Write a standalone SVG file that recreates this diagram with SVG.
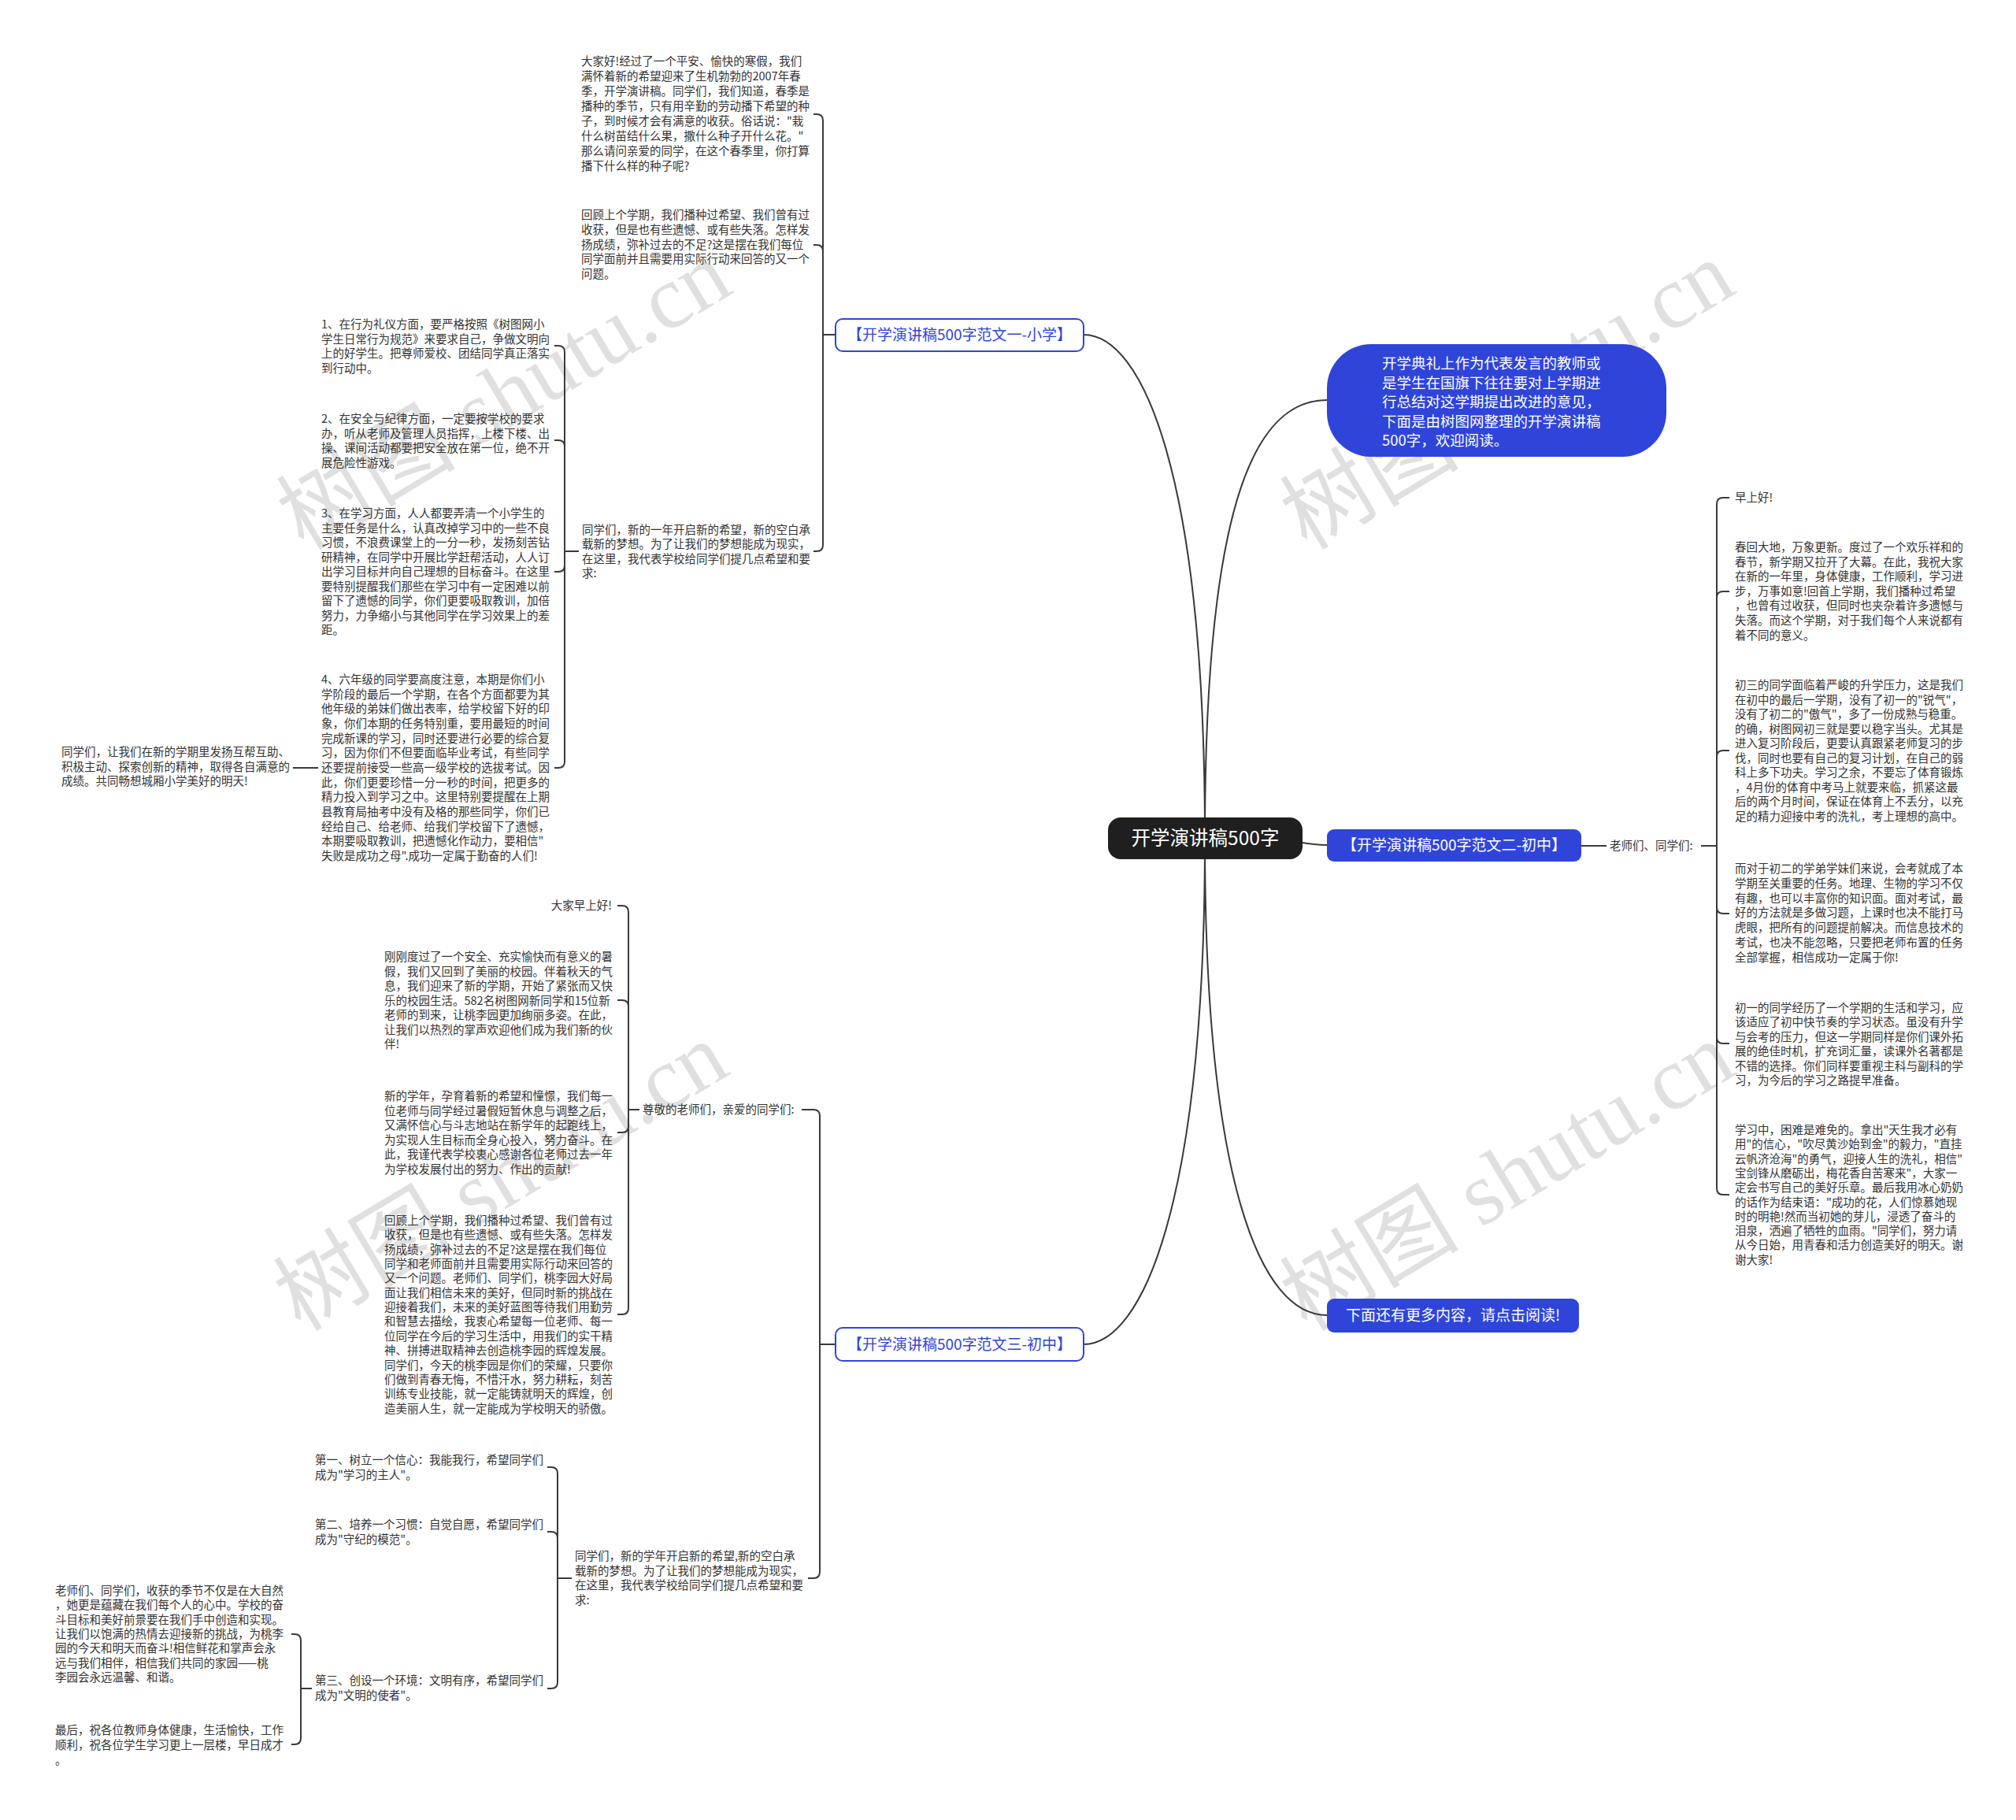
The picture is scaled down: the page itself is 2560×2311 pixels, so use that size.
<svg xmlns="http://www.w3.org/2000/svg" width="2560" height="2311" viewBox="0 0 2560 2311">
<style>
.t{font-family:"Noto Sans CJK SC","Noto Sans",sans-serif;font-size:14.5px;fill:#333}
.c{fill:none;stroke:#3a3a3a;stroke-width:2}
.wm{font-family:"Liberation Serif","Noto Sans CJK SC",serif;font-size:114px;fill:#000;fill-opacity:0.12;text-anchor:middle}
.nb{fill:#2f45d9}
.nw{fill:#fff;stroke:#2f45d9;stroke-width:2}
.lb{font-family:"Noto Sans CJK SC","Noto Sans",sans-serif;font-size:19px;text-anchor:middle}
</style>
<rect width="2560" height="2311" fill="#fff"/>
<g id="watermarks">
<text class="wm" transform="translate(660,535) rotate(-31)">树图 shutu.cn</text>
<text class="wm" transform="translate(1934,535) rotate(-31)">树图 shutu.cn</text>
<text class="wm" transform="translate(656,1527) rotate(-31)">树图 shutu.cn</text>
<text class="wm" transform="translate(1934,1527) rotate(-31)">树图 shutu.cn</text>
</g>
<g id="connectors">
<path class="c" d="M1530,1065 C1530,600 1450,425 1376,425"/>
<path class="c" d="M1530,1065 C1530,620 1600,508 1685,508"/>
<path class="c" d="M1600,1065 C1650,1065 1650,1073 1685,1073"/>
<path class="c" d="M1530,1065 C1530,1500 1600,1670 1685,1670"/>
<path class="c" d="M1530,1065 C1530,1530 1450,1707 1376,1707"/>
<path class="c" d="M2008,1074 H2040"/>
<path class="c" d="M2160,1074 H2180 M2180,1074 V640 Q2180,632 2188,632 H2196 M2180,1074 V759 Q2180,751 2188,751 H2196 M2180,1074 V961 Q2180,953 2188,953 H2196 M2180,1074 V1152 Q2180,1160 2188,1160 H2196 M2180,1074 V1317 Q2180,1325 2188,1325 H2196 M2180,1074 V1509 Q2180,1517 2188,1517 H2196"/>
<path class="c" d="M1061,425 H1045 M1045,425 V153 Q1045,145 1037,145 H1033 M1045,425 V319 Q1045,311 1037,311 H1033 M1045,425 V692 Q1045,700 1037,700 H1033"/>
<path class="c" d="M735,700 H717 M717,700 V447 Q717,439 709,439 H704 M717,700 V567 Q717,559 709,559 H704 M717,700 V718 Q717,726 709,726 H704 M717,700 V967 Q717,975 709,975 H704"/>
<path class="c" d="M404,975 H372"/>
<path class="c" d="M1061,1707 H1041 M1041,1707 V1417 Q1041,1409 1033,1409 H1018 M1041,1707 V1996 Q1041,2004 1033,2004 H1026"/>
<path class="c" d="M812,1409 H798 M798,1409 V1158 Q798,1150 790,1150 H784 M798,1409 V1278 Q798,1270 790,1270 H784 M798,1409 V1430 Q798,1438 790,1438 H784 M798,1409 V1661 Q798,1669 790,1669 H784"/>
<path class="c" d="M726,2004 H708 M708,2004 V1871 Q708,1863 700,1863 H695 M708,2004 V1953 Q708,1945 700,1945 H695 M708,2004 V2136 Q708,2144 700,2144 H695"/>
<path class="c" d="M396,2144 H382 M382,2144 V2083 Q382,2075 374,2075 H370 M382,2144 V2207 Q382,2215 374,2215 H370"/>
</g>
<g id="root">
<rect x="1407" y="1038" width="247" height="53" rx="16" fill="#1f1f1f"/>
<text x="1530.5" y="1073" font-family="Noto Sans CJK SC, sans-serif" font-size="24.5" fill="#fff" text-anchor="middle">开学演讲稿500字</text>
</g>
<g id="intro">
<rect x="1685" y="437" width="431" height="143" rx="56" class="nb"/>
<text font-family="Noto Sans CJK SC, sans-serif" font-size="18.5" fill="#fff"><tspan x="1755" y="468">开学典礼上作为代表发言的教师或</tspan><tspan x="1755" y="492.5">是学生在国旗下往往要对上学期进</tspan><tspan x="1755" y="517">行总结对这学期提出改进的意见，</tspan><tspan x="1755" y="541.5">下面是由树图网整理的开学演讲稿</tspan><tspan x="1755" y="566">500字，欢迎阅读。</tspan></text>
</g>
<g id="branch2">
<rect x="1685" y="1053" width="323" height="41" rx="9" class="nb"/>
<text class="lb" x="1846.5" y="1080" fill="#fff">【开学演讲稿500字范文二-初中】</text>
</g>
<g id="more">
<rect x="1685" y="1649" width="320" height="43" rx="9" class="nb"/>
<text class="lb" x="1845" y="1677" fill="#fff">下面还有更多内容，请点击阅读!</text>
</g>
<g id="branch1">
<rect x="1061" y="405" width="315" height="41" rx="9" class="nw"/>
<text class="lb" x="1218.5" y="432" fill="#2f45d9">【开学演讲稿500字范文一-小学】</text>
</g>
<g id="branch3">
<rect x="1061" y="1686" width="315" height="42" rx="9" class="nw"/>
<text class="lb" x="1218.5" y="1714" fill="#2f45d9">【开学演讲稿500字范文三-初中】</text>
</g>
<g id="b2-children">
<text class="t" x="2044" y="1079">老师们、同学们:</text>
<text class="t" x="2203" y="637">早上好!</text>
<text class="t"><tspan x="2203" y="700">春回大地，万象更新。度过了一个欢乐祥和的</tspan><tspan x="2203" dy="18.6">春节，新学期又拉开了大幕。在此，我祝大家</tspan><tspan x="2203" dy="18.6">在新的一年里，身体健康，工作顺利，学习进</tspan><tspan x="2203" dy="18.6">步，万事如意!回首上学期，我们播种过希望</tspan><tspan x="2203" dy="18.6">，也曾有过收获，但同时也夹杂着许多遗憾与</tspan><tspan x="2203" dy="18.6">失落。而这个学期，对于我们每个人来说都有</tspan><tspan x="2203" dy="18.6">着不同的意义。</tspan></text>
<text class="t"><tspan x="2203" y="875">初三的同学面临着严峻的升学压力，这是我们</tspan><tspan x="2203" dy="18.55">在初中的最后一学期，没有了初一的"锐气"，</tspan><tspan x="2203" dy="18.55">没有了初二的"傲气"，多了一份成熟与稳重。</tspan><tspan x="2203" dy="18.55">的确，树图网初三就是要以稳字当头。尤其是</tspan><tspan x="2203" dy="18.55">进入复习阶段后，更要认真跟紧老师复习的步</tspan><tspan x="2203" dy="18.55">伐，同时也要有自己的复习计划，在自己的弱</tspan><tspan x="2203" dy="18.55">科上多下功夫。学习之余，不要忘了体育锻炼</tspan><tspan x="2203" dy="18.55">，4月份的体育中考马上就要来临，抓紧这最</tspan><tspan x="2203" dy="18.55">后的两个月时间，保证在体育上不丢分，以充</tspan><tspan x="2203" dy="18.55">足的精力迎接中考的洗礼，考上理想的高中。</tspan></text>
<text class="t"><tspan x="2203" y="1108">而对于初二的学弟学妹们来说，会考就成了本</tspan><tspan x="2203" dy="18.8">学期至关重要的任务。地理、生物的学习不仅</tspan><tspan x="2203" dy="18.8">有趣，也可以丰富你的知识面。面对考试，最</tspan><tspan x="2203" dy="18.8">好的方法就是多做习题，上课时也决不能打马</tspan><tspan x="2203" dy="18.8">虎眼，把所有的问题提前解决。而信息技术的</tspan><tspan x="2203" dy="18.8">考试，也决不能忽略，只要把老师布置的任务</tspan><tspan x="2203" dy="18.8">全部掌握，相信成功一定属于你!</tspan></text>
<text class="t"><tspan x="2203" y="1285">初一的同学经历了一个学期的生活和学习，应</tspan><tspan x="2203" dy="18.4">该适应了初中快节奏的学习状态。虽没有升学</tspan><tspan x="2203" dy="18.4">与会考的压力，但这一学期同样是你们课外拓</tspan><tspan x="2203" dy="18.4">展的绝佳时机，扩充词汇量，读课外名著都是</tspan><tspan x="2203" dy="18.4">不错的选择。你们同样要重视主科与副科的学</tspan><tspan x="2203" dy="18.4">习，为今后的学习之路提早准备。</tspan></text>
<text class="t"><tspan x="2203" y="1440">学习中，困难是难免的。拿出"天生我才必有</tspan><tspan x="2203" dy="18.3">用"的信心，"吹尽黄沙始到金"的毅力，"直挂</tspan><tspan x="2203" dy="18.3">云帆济沧海"的勇气，迎接人生的洗礼，相信"</tspan><tspan x="2203" dy="18.3">宝剑锋从磨砺出，梅花香自苦寒来"，大家一</tspan><tspan x="2203" dy="18.3">定会书写自己的美好乐章。最后我用冰心奶奶</tspan><tspan x="2203" dy="18.3">的话作为结束语："成功的花，人们惊慕她现</tspan><tspan x="2203" dy="18.3">时的明艳!然而当初她的芽儿，浸透了奋斗的</tspan><tspan x="2203" dy="18.3">泪泉，洒遍了牺牲的血雨。"同学们，努力请</tspan><tspan x="2203" dy="18.3">从今日始，用青春和活力创造美好的明天。谢</tspan><tspan x="2203" dy="18.3">谢大家!</tspan></text>
</g>
<g id="b1-children">
<text class="t"><tspan x="738" y="83">大家好!经过了一个平安、愉快的寒假，我们</tspan><tspan x="738" dy="19">满怀着新的希望迎来了生机勃勃的2007年春</tspan><tspan x="738" dy="19">季，开学演讲稿。同学们，我们知道，春季是</tspan><tspan x="738" dy="19">播种的季节，只有用辛勤的劳动播下希望的种</tspan><tspan x="738" dy="19">子，到时候才会有满意的收获。俗话说："栽</tspan><tspan x="738" dy="19">什么树苗结什么果，撒什么种子开什么花。"</tspan><tspan x="738" dy="19">那么请问亲爱的同学，在这个春季里，你打算</tspan><tspan x="738" dy="19">播下什么样的种子呢?</tspan></text>
<text class="t"><tspan x="738" y="278">回顾上个学期，我们播种过希望、我们曾有过</tspan><tspan x="738" dy="18.8">收获，但是也有些遗憾、或有些失落。怎样发</tspan><tspan x="738" dy="18.8">扬成绩，弥补过去的不足?这是摆在我们每位</tspan><tspan x="738" dy="18.8">同学面前并且需要用实际行动来回答的又一个</tspan><tspan x="738" dy="18.8">问题。</tspan></text>
<text class="t"><tspan x="739" y="678">同学们，新的一年开启新的希望，新的空白承</tspan><tspan x="739" dy="18.4">载新的梦想。为了让我们的梦想能成为现实，</tspan><tspan x="739" dy="18.4">在这里，我代表学校给同学们提几点希望和要</tspan><tspan x="739" dy="18.4">求:</tspan></text>
<text class="t"><tspan x="408" y="417">1、在行为礼仪方面，要严格按照《树图网小</tspan><tspan x="408" dy="18.5">学生日常行为规范》来要求自己，争做文明向</tspan><tspan x="408" dy="18.5">上的好学生。把尊师爱校、团结同学真正落实</tspan><tspan x="408" dy="18.5">到行动中。</tspan></text>
<text class="t"><tspan x="408" y="537">2、在安全与纪律方面，一定要按学校的要求</tspan><tspan x="408" dy="18.5">办，听从老师及管理人员指挥，上楼下楼、出</tspan><tspan x="408" dy="18.5">操、课间活动都要把安全放在第一位，绝不开</tspan><tspan x="408" dy="18.5">展危险性游戏。</tspan></text>
<text class="t"><tspan x="408" y="657">3、在学习方面，人人都要弄清一个小学生的</tspan><tspan x="408" dy="18.5">主要任务是什么，认真改掉学习中的一些不良</tspan><tspan x="408" dy="18.5">习惯，不浪费课堂上的一分一秒，发扬刻苦钻</tspan><tspan x="408" dy="18.5">研精神，在同学中开展比学赶帮活动，人人订</tspan><tspan x="408" dy="18.5">出学习目标并向自己理想的目标奋斗。在这里</tspan><tspan x="408" dy="18.5">要特别提醒我们那些在学习中有一定困难以前</tspan><tspan x="408" dy="18.5">留下了遗憾的同学，你们更要吸取教训，加倍</tspan><tspan x="408" dy="18.5">努力，力争缩小与其他同学在学习效果上的差</tspan><tspan x="408" dy="18.5">距。</tspan></text>
<text class="t"><tspan x="408" y="868">4、六年级的同学要高度注意，本期是你们小</tspan><tspan x="408" dy="18.65">学阶段的最后一个学期，在各个方面都要为其</tspan><tspan x="408" dy="18.65">他年级的弟妹们做出表率，给学校留下好的印</tspan><tspan x="408" dy="18.65">象，你们本期的任务特别重，要用最短的时间</tspan><tspan x="408" dy="18.65">完成新课的学习，同时还要进行必要的综合复</tspan><tspan x="408" dy="18.65">习，因为你们不但要面临毕业考试，有些同学</tspan><tspan x="408" dy="18.65">还要提前接受一些高一级学校的选拔考试。因</tspan><tspan x="408" dy="18.65">此，你们更要珍惜一分一秒的时间，把更多的</tspan><tspan x="408" dy="18.65">精力投入到学习之中。这里特别要提醒在上期</tspan><tspan x="408" dy="18.65">县教育局抽考中没有及格的那些同学，你们已</tspan><tspan x="408" dy="18.65">经给自己、给老师、给我们学校留下了遗憾，</tspan><tspan x="408" dy="18.65">本期要吸取教训，把遗憾化作动力，要相信"</tspan><tspan x="408" dy="18.65">失败是成功之母".成功一定属于勤奋的人们!</tspan></text>
<text class="t"><tspan x="78" y="960">同学们，让我们在新的学期里发扬互帮互助、</tspan><tspan x="78" dy="18.5">积极主动、探索创新的精神，取得各自满意的</tspan><tspan x="78" dy="18.5">成绩。共同畅想城厢小学美好的明天!</tspan></text>
</g>
<g id="b3-children">
<text class="t" x="816" y="1414">尊敬的老师们，亲爱的同学们:</text>
<text class="t" x="777" y="1155" text-anchor="end">大家早上好!</text>
<text class="t"><tspan x="488" y="1220">刚刚度过了一个安全、充实愉快而有意义的暑</tspan><tspan x="488" dy="18.5">假，我们又回到了美丽的校园。伴着秋天的气</tspan><tspan x="488" dy="18.5">息，我们迎来了新的学期，开始了紧张而又快</tspan><tspan x="488" dy="18.5">乐的校园生活。582名树图网新同学和15位新</tspan><tspan x="488" dy="18.5">老师的到来，让桃李园更加绚丽多姿。在此，</tspan><tspan x="488" dy="18.5">让我们以热烈的掌声欢迎他们成为我们新的伙</tspan><tspan x="488" dy="18.5">伴!</tspan></text>
<text class="t"><tspan x="488" y="1397">新的学年，孕育着新的希望和憧憬，我们每一</tspan><tspan x="488" dy="18.5">位老师与同学经过暑假短暂休息与调整之后，</tspan><tspan x="488" dy="18.5">又满怀信心与斗志地站在新学年的起跑线上，</tspan><tspan x="488" dy="18.5">为实现人生目标而全身心投入，努力奋斗。在</tspan><tspan x="488" dy="18.5">此，我谨代表学校衷心感谢各位老师过去一年</tspan><tspan x="488" dy="18.5">为学校发展付出的努力、作出的贡献!</tspan></text>
<text class="t"><tspan x="488" y="1555">回顾上个学期，我们播种过希望、我们曾有过</tspan><tspan x="488" dy="18.35">收获，但是也有些遗憾、或有些失落。怎样发</tspan><tspan x="488" dy="18.35">扬成绩，弥补过去的不足?这是摆在我们每位</tspan><tspan x="488" dy="18.35">同学和老师面前并且需要用实际行动来回答的</tspan><tspan x="488" dy="18.35">又一个问题。老师们、同学们，桃李园大好局</tspan><tspan x="488" dy="18.35">面让我们相信未来的美好，但同时新的挑战在</tspan><tspan x="488" dy="18.35">迎接着我们，未来的美好蓝图等待我们用勤劳</tspan><tspan x="488" dy="18.35">和智慧去描绘，我衷心希望每一位老师、每一</tspan><tspan x="488" dy="18.35">位同学在今后的学习生活中，用我们的实干精</tspan><tspan x="488" dy="18.35">神、拼搏进取精神去创造桃李园的辉煌发展。</tspan><tspan x="488" dy="18.35">同学们，今天的桃李园是你们的荣耀，只要你</tspan><tspan x="488" dy="18.35">们做到青春无悔，不惜汗水，努力耕耘，刻苦</tspan><tspan x="488" dy="18.35">训练专业技能，就一定能铸就明天的辉煌，创</tspan><tspan x="488" dy="18.35">造美丽人生，就一定能成为学校明天的骄傲。</tspan></text>
<text class="t"><tspan x="730" y="1981">同学们，新的学年开启新的希望,新的空白承</tspan><tspan x="730" dy="18.7">载新的梦想。为了让我们的梦想能成为现实，</tspan><tspan x="730" dy="18.7">在这里，我代表学校给同学们提几点希望和要</tspan><tspan x="730" dy="18.7">求:</tspan></text>
<text class="t"><tspan x="400" y="1859">第一、树立一个信心：我能我行，希望同学们</tspan><tspan x="400" dy="18.5">成为"学习的主人"。</tspan></text>
<text class="t"><tspan x="400" y="1941">第二、培养一个习惯：自觉自愿，希望同学们</tspan><tspan x="400" dy="18.5">成为"守纪的模范"。</tspan></text>
<text class="t"><tspan x="400" y="2139">第三、创设一个环境：文明有序，希望同学们</tspan><tspan x="400" dy="18.5">成为"文明的使者"。</tspan></text>
<text class="t"><tspan x="70" y="2025">老师们、同学们，收获的季节不仅是在大自然</tspan><tspan x="70" dy="18.35">，她更是蕴藏在我们每个人的心中。学校的奋</tspan><tspan x="70" dy="18.35">斗目标和美好前景要在我们手中创造和实现。</tspan><tspan x="70" dy="18.35">让我们以饱满的热情去迎接新的挑战，为桃李</tspan><tspan x="70" dy="18.35">园的今天和明天而奋斗!相信鲜花和掌声会永</tspan><tspan x="70" dy="18.35">远与我们相伴，相信我们共同的家园——桃</tspan><tspan x="70" dy="18.35">李园会永远温馨、和谐。</tspan></text>
<text class="t"><tspan x="70" y="2202">最后，祝各位教师身体健康，生活愉快，工作</tspan><tspan x="70" dy="18.5">顺利，祝各位学生学习更上一层楼，早日成才</tspan><tspan x="70" dy="19">。</tspan></text>
</g>
</svg>
